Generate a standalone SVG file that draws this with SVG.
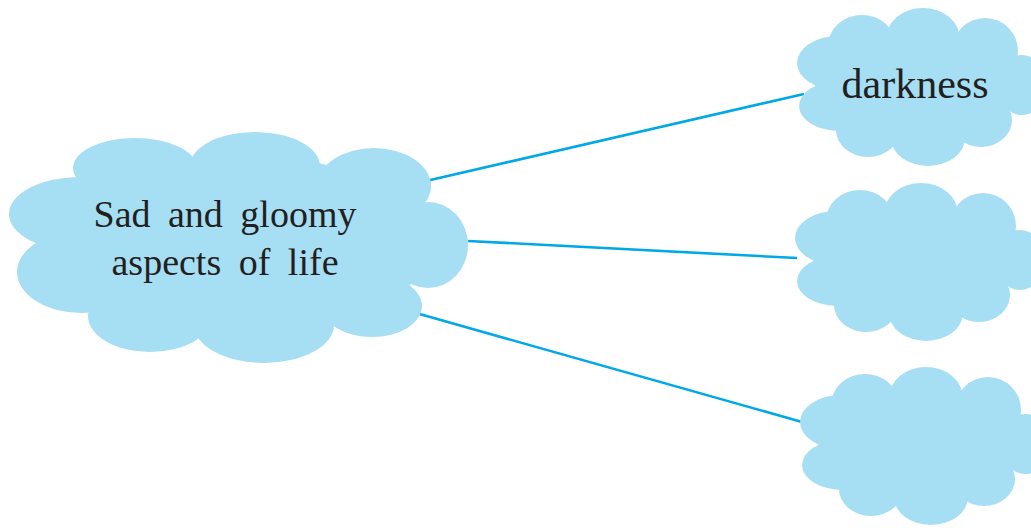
<svg xmlns="http://www.w3.org/2000/svg" xmlns:xlink="http://www.w3.org/1999/xlink" width="1031" height="528" viewBox="0 0 1031 528">
<style>
.cloud{fill:#A6DEF4;}
.conn{stroke:#00A8E6;stroke-width:2.6;fill:none;stroke-linecap:butt;}
.lbl{font-family:"Liberation Serif","DejaVu Serif",serif;fill:#231F20;text-anchor:middle;}
</style>
<defs>
<g id="smallcloud" class="cloud">
<ellipse cx="915" cy="88" rx="100" ry="55"/>
<ellipse cx="862" cy="46" rx="34" ry="31"/>
<ellipse cx="923" cy="39" rx="37" ry="31"/>
<ellipse cx="985" cy="51" rx="33" ry="33"/>
<ellipse cx="1022" cy="85" rx="25" ry="30"/>
<ellipse cx="981" cy="120" rx="31" ry="27"/>
<ellipse cx="928" cy="138" rx="37" ry="28"/>
<ellipse cx="868" cy="130" rx="32" ry="27"/>
<ellipse cx="840" cy="106" rx="41" ry="25"/>
<ellipse cx="838" cy="63" rx="41" ry="27"/>
</g>
</defs>
<rect width="1031" height="528" fill="#FFFFFF"/>
<g id="connectors">
<line class="conn" x1="426" y1="181" x2="804" y2="94"/>
<line class="conn" x1="468" y1="241" x2="797" y2="258"/>
<line class="conn" x1="416" y1="313" x2="802" y2="422"/>
</g>
<g id="main">
<g class="cloud">
<ellipse cx="240" cy="245" rx="190" ry="90"/>
<ellipse cx="135" cy="168" rx="62" ry="30"/>
<ellipse cx="255" cy="166" rx="65" ry="34"/>
<ellipse cx="374" cy="186" rx="57" ry="38"/>
<ellipse cx="428" cy="245" rx="40" ry="43"/>
<ellipse cx="372" cy="306" rx="50" ry="31"/>
<ellipse cx="264" cy="325" rx="70" ry="38"/>
<ellipse cx="150" cy="316" rx="62" ry="36"/>
<ellipse cx="82" cy="272" rx="65" ry="41"/>
<ellipse cx="80" cy="214" rx="71" ry="37"/>
</g>
<text class="lbl" x="225" y="227" font-size="38" word-spacing="8">Sad and gloomy</text>
<text class="lbl" x="225" y="275" font-size="38" word-spacing="8">aspects of life</text>
</g>
<g id="cloud1">
<use xlink:href="#smallcloud"/>
<text class="lbl" x="915" y="98" font-size="42">darkness</text>
</g>
<g id="cloud2">
<use xlink:href="#smallcloud" transform="translate(-2,175)"/>
</g>
<g id="cloud3">
<use xlink:href="#smallcloud" transform="translate(3,359)"/>
</g>
</svg>
